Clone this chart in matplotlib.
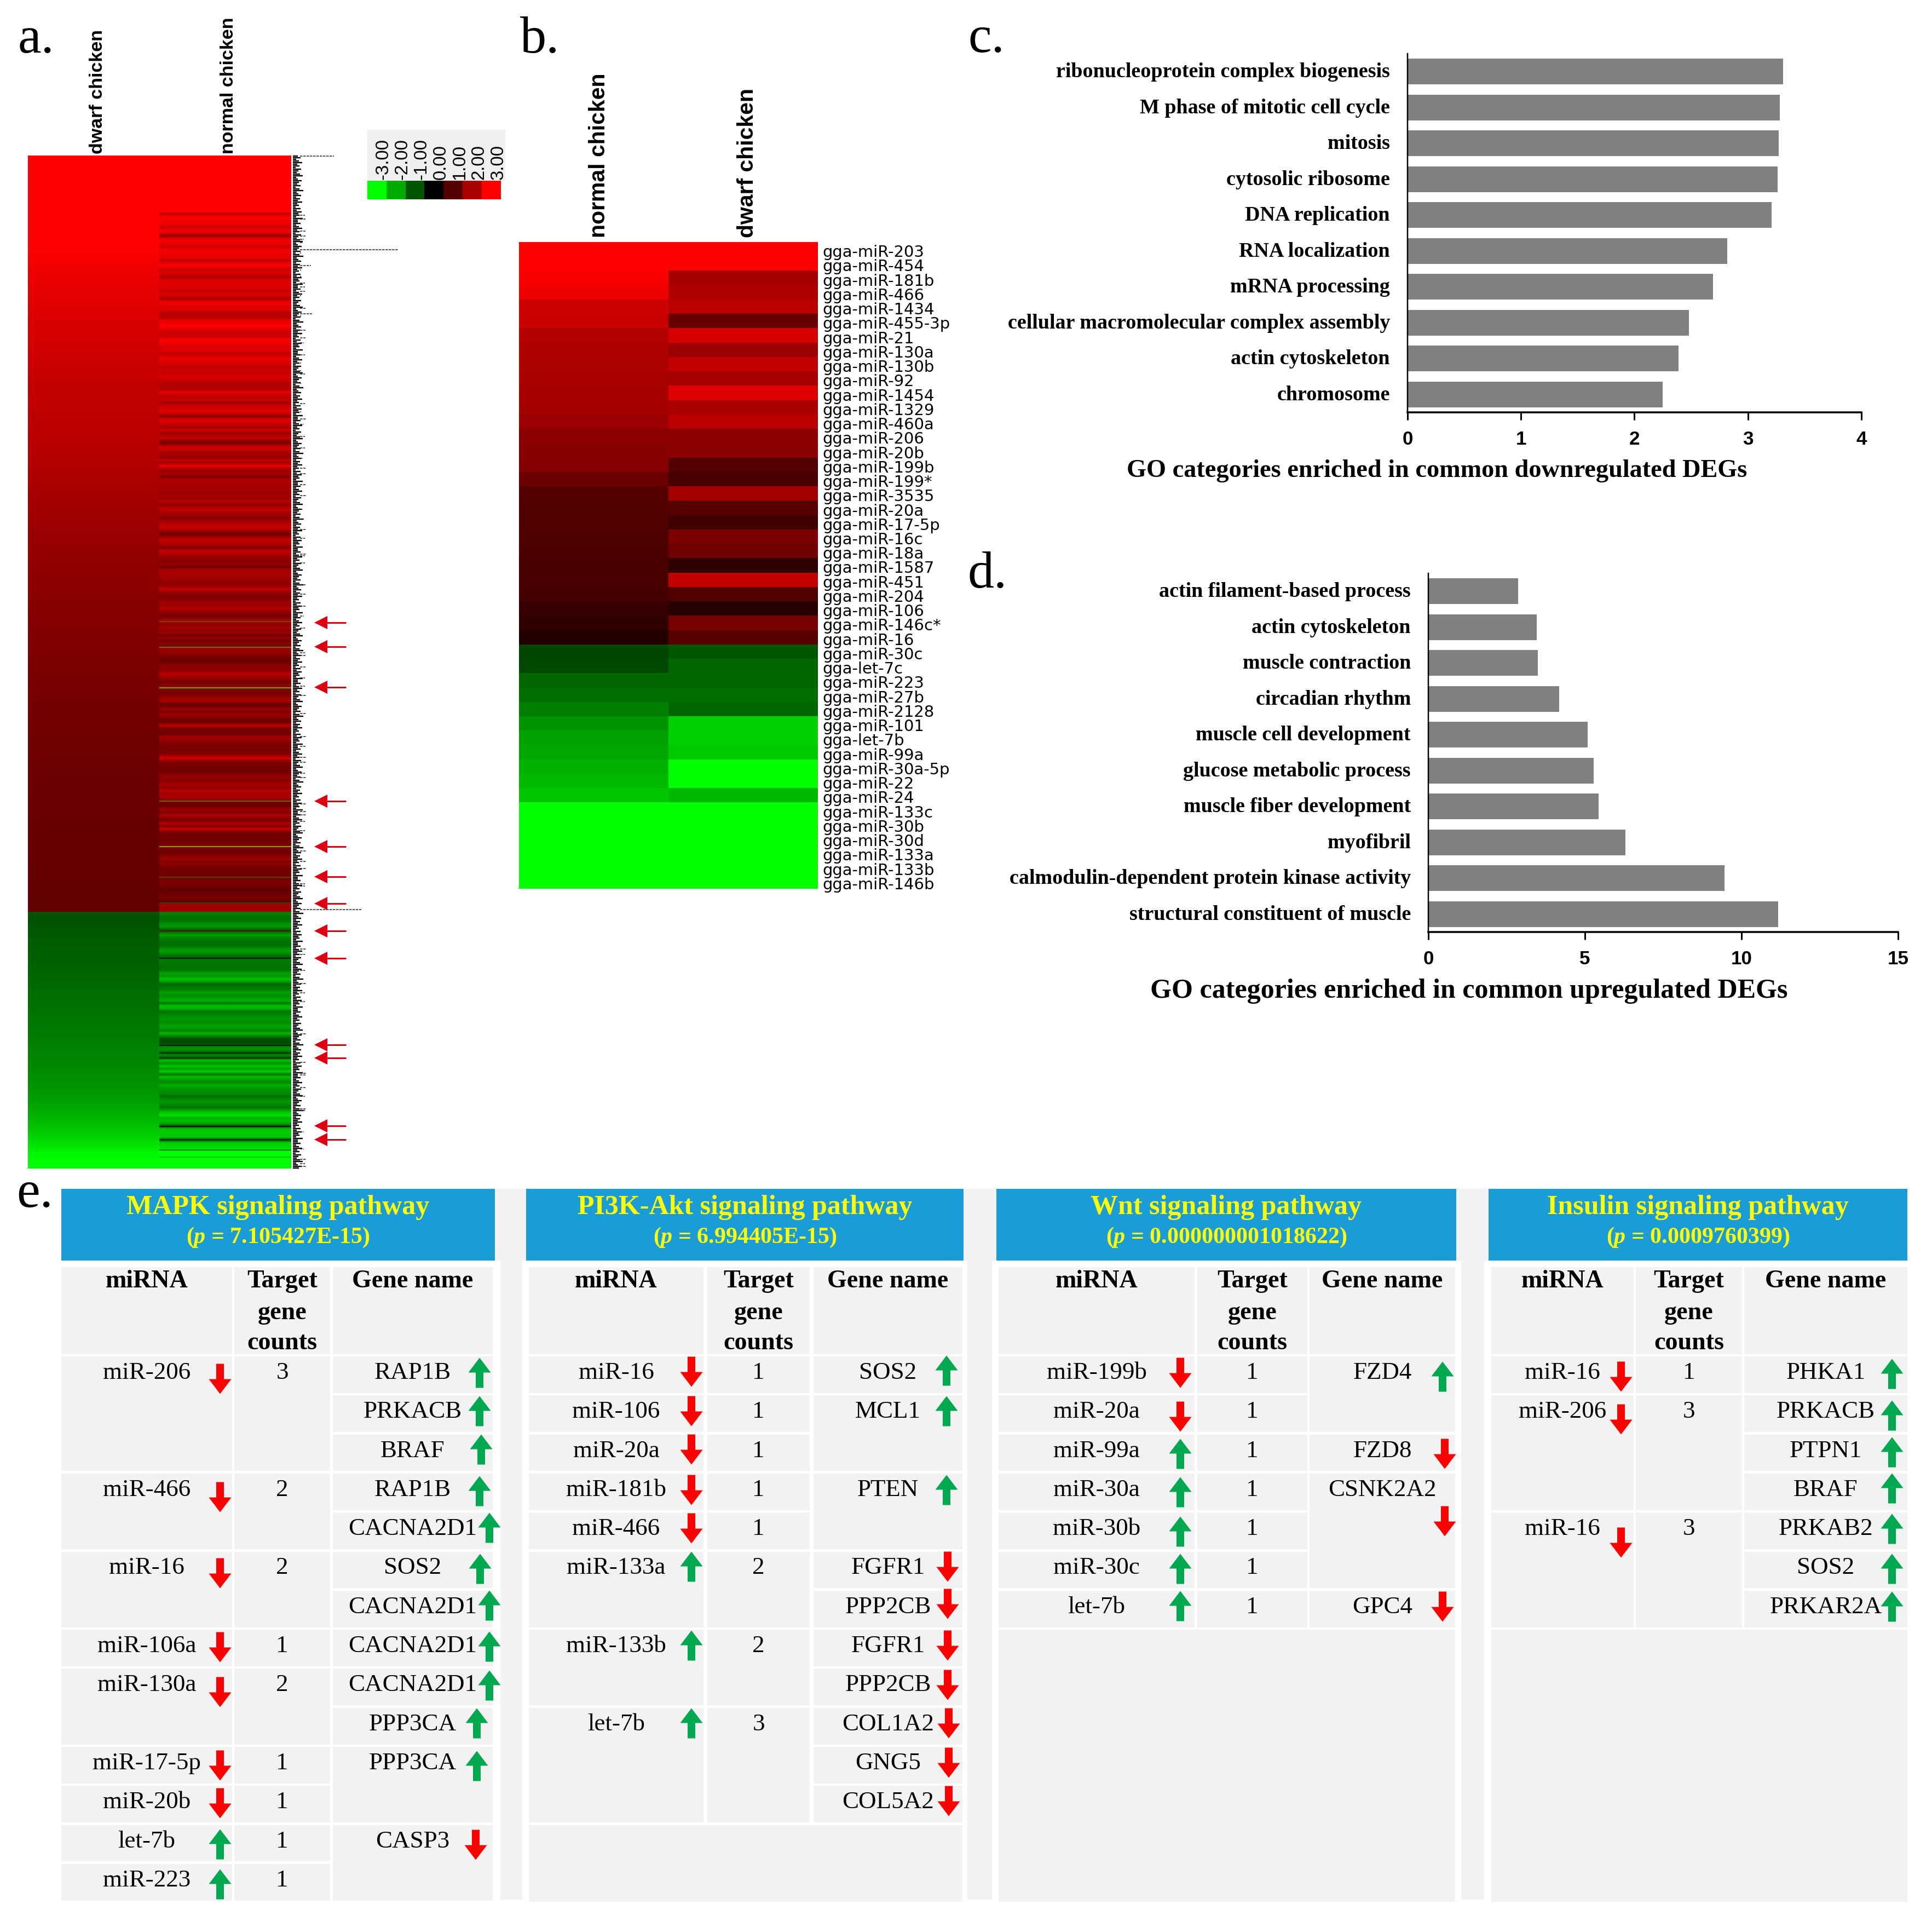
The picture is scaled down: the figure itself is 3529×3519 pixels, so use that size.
import numpy as np
import matplotlib
matplotlib.use('Agg')
import matplotlib.pyplot as plt
from matplotlib.colors import LinearSegmentedColormap
from matplotlib.patches import Rectangle, Polygon
from matplotlib.transforms import ScaledTranslation

W, H = 3530, 3519
SERIF = 'Liberation Serif'
SANS = 'Liberation Sans'

plt.rcParams['mathtext.fontset'] = 'custom'
plt.rcParams['mathtext.rm'] = 'Liberation Serif:bold'
plt.rcParams['mathtext.it'] = 'Liberation Serif:italic:bold'

# heatmap a, hex channel values, 5 px per row
a_dwarf_red = """FF FF FF FF FC EC E4 DC D4 CC C4 C0 BC B8 B0 A8 A0 9A 94 8E 8A 84 80 7C 78 74 72 70
6E 6C 6A 68 66 64 62""".split()
a_dwarf_green = """50 56 5C 5E 60 64 68 6C 70 74 78 7C 80 84 88 8E 94 9E A8 B8 C8 DC F4 FF""".split()

a_normal_top = ['FF'] * 21
a_normal_1 = """C0 F4 F8 F0 E8 D0 F0 E0 90 E8 F0 E8 C8 F0 F8 E8 E8 C0 E8 FF D0 D4 D8 A8 D8 E0 D8 E0 C4 D8
D0 A8 E8 F0 D8 E8 B8 B4 B8 E8 F0 FF E8 D0 CC D0 FF F0 E0 D8 E0 BC D8 F0 D8 D8 BC D0 C4 D8
D0 C8 B0 B4 AC E8 D0 BC C8 A0 C8 D0 E0 C8 8C D8 D8 C0 A4 D0 9C B0 C0 88 80 C8 C8""".split()
a_normal_2 = """B0 A0 94 C0 A0 F0 B0 98 A8 80 A8 B0 A0 A8 A0 98 A8 98 B8 94 A8 C0 A8 A0 88 A0 B0 C0 C0 90
70 98 C4 B8 A8 80 C4 B8 A0 90 84 98 70 A4 A8 A8 A0 98 90 98 C4 A0 88 7C 90 A0 98 B4 98 8C
70 98 A8 8C A0 90 98 74 90 74 90 6C A0 94 88 74 68 70 90 88 94 B8 A0 90 78 88 90""".split()
a_normal_3 = """78 78 84 A0 A4 70 70 A0 7C A0 84 70 74 C0 78 74 68 A0 A0 80 80 78 78 7C 98 D0 90 78 78 74
70 88 98 84 9C A4 90 C0 98 B0 90 70 68 78 A0 80 B0 88 78 B8 80 C8 84 70 70 70 78 78 70 70
70 88 A0 84 90 78 70 70 78 70 74 80 74 64 64 70 78 70 60 A8 98 A0""".split()
a_normal_4 = """80 74 70 78 90 98 60 70 A0 84 78 70 70 90 A0 84 60 78 78 74 70 78 A0 94 C0 A0 68 74 80 A0
90 98 B0 78 C0 B0 70 84 90 98 88 A0 A0 80 B8 80 50 4C 50 88 94 60 84 60 C0 90 C8 98 D0 70
C0 98 88 B0 98 90 88 70 84 98 88 70 98 C8 E0 B0 C0 A0 60 C0 D0 C8 C8 50 C8 D8 D8 FF FF FF
FF FF FF FF""".split()

a_line_y = [1135, 1182, 1256, 1463, 1546, 1602, 1649, 1700, 1750, 1909, 1923, 1932, 2057, 2081, 2100, 2113]
a_line_color = ['#6B4A00', '#7A6A00', '#6FA000', '#7A5A00', '#8A9A10', '#5A3A00', '#3A4000', '#501A00',
                '#102000', '#002000', '#003000', '#003000', '#101000', '#002000', '#008000', '#00C800']
a_arrow_y = [1137, 1181, 1255, 1463, 1546, 1601, 1650, 1700, 1750, 1908, 1932, 2056, 2081]
# tiny row labels of heatmap a are unreadable, only their ends are kept
a_label_end = [9, 14, 6, 11, 17, 8, 12, 5, 15, 10, 7, 13, 18, 6, 9, 16, 11, 8, 14, 5, 12, 19, 7, 10, 15, 6, 13, 9,
               17, 8, 11, 5, 14, 7, 16, 10, 12, 6, 18, 9]
a_long_y = [285, 393, 400, 422, 431, 437, 443, 456, 462, 485, 493, 505, 517, 524, 532, 540, 563, 573, 577, 603, 610,
            617, 626, 648, 663, 677, 683, 700, 737, 752, 765, 775, 797, 818, 837, 855, 865, 885, 905, 930, 948, 967,
            983, 1012, 1015, 1028, 1068, 1085, 1107, 1125, 1147, 1192, 1197, 1218, 1238, 1253, 1270, 1303, 1345,
            1363, 1383, 1392, 1412, 1420, 1468, 1482, 1488, 1500, 1517, 1554, 1573, 1586, 1614, 1618, 1661, 1733,
            1743, 1772, 1796, 1813, 1829, 1888, 1940, 1960, 1963, 1986, 2002, 2025, 2028, 2067, 2098, 2117, 2125, 2130]
a_long_end = [610, 557, 558, 558, 558, 555, 553, 727, 550, 568, 550, 550, 557, 557, 557, 550, 558, 570, 550, 558, 550,
              558, 555, 557, 550, 550, 557, 550, 557, 550, 560, 555, 557, 557, 553, 558, 558, 558, 560, 553, 555, 558,
              557, 560, 557, 557, 558, 558, 558, 555, 557, 557, 558, 558, 557, 557, 560, 558, 560,
              558, 560, 560, 557, 560, 560, 560, 560, 557, 557, 560, 560, 560, 557, 557, 660, 560,
              557, 557, 560, 557, 557, 560, 558, 560, 558, 558, 557, 560, 557, 555, 555, 560, 557, 560]

legend_ticks = ['-3.00', '-2.00', '-1.00', '0.00', '1.00', '2.00', '3.00']
legend_levels = [-3, -2, -1, 0, 1, 2, 3]

# heatmap b
mir_b = ['gga-miR-203', 'gga-miR-454', 'gga-miR-181b', 'gga-miR-466', 'gga-miR-1434', 'gga-miR-455-3p', 'gga-miR-21',
         'gga-miR-130a', 'gga-miR-130b', 'gga-miR-92', 'gga-miR-1454', 'gga-miR-1329', 'gga-miR-460a', 'gga-miR-206',
         'gga-miR-20b', 'gga-miR-199b', 'gga-miR-199*', 'gga-miR-3535', 'gga-miR-20a', 'gga-miR-17-5p', 'gga-miR-16c',
         'gga-miR-18a', 'gga-miR-1587', 'gga-miR-451', 'gga-miR-204', 'gga-miR-106', 'gga-miR-146c*', 'gga-miR-16',
         'gga-miR-30c', 'gga-let-7c', 'gga-miR-223', 'gga-miR-27b', 'gga-miR-2128', 'gga-miR-101', 'gga-let-7b',
         'gga-miR-99a', 'gga-miR-30a-5p', 'gga-miR-22', 'gga-miR-24', 'gga-miR-133c', 'gga-miR-30b', 'gga-miR-30d',
         'gga-miR-133a', 'gga-miR-133b', 'gga-miR-146b']
normal_b = [3.0, 3.0, 2.95, 2.8, 2.4, 2.35, 2.1, 2.05, 2.03, 2.0, 1.95, 1.93, 1.85, 1.65, 1.6, 1.55, 1.25, 1.0, 0.98,
            0.95, 0.92, 0.9, 0.88, 0.86, 0.83, 0.65, 0.58, 0.4, -0.8, -0.85, -1.2, -1.3, -1.5, -1.75, -1.88, -1.95,
            -2.08, -2.17, -2.3, -3.0, -3.0, -3.0, -3.0, -3.0, -3.0]
dwarf_b = [3.0, 3.0, 1.93, 2.05, 2.2, 1.18, 2.55, 1.85, 2.28, 1.95, 2.6, 2.0, 2.2, 1.65, 1.62, 1.0, 0.85, 1.93, 1.03,
           0.75, 1.46, 1.32, 0.56, 2.3, 0.94, 0.45, 1.4, 1.03, -1.03, -1.2, -1.2, -1.27, -1.2, -2.45, -2.45, -2.35,
           -3.0, -3.0, -2.17, -3.0, -3.0, -3.0, -3.0, -3.0, -3.0]

# panels c and d
go_down = ['ribonucleoprotein complex biogenesis', 'M phase of mitotic cell cycle', 'mitosis', 'cytosolic ribosome',
           'DNA replication', 'RNA localization', 'mRNA processing', 'cellular macromolecular complex assembly',
           'actin cytoskeleton', 'chromosome']
go_down_val = [3.31, 3.28, 3.27, 3.26, 3.21, 2.82, 2.69, 2.48, 2.39, 2.25]
go_up = ['actin filament-based process', 'actin cytoskeleton', 'muscle contraction', 'circadian rhythm',
         'muscle cell development', 'glucose metabolic process', 'muscle fiber development', 'myofibril',
         'calmodulin-dependent protein kinase activity', 'structural constituent of muscle']
go_up_val = [2.87, 3.46, 3.5, 4.17, 5.08, 5.28, 5.43, 6.3, 9.45, 11.18]

# panel e, tables
titles = ['MAPK signaling pathway', 'PI3K-Akt signaling pathway', 'Wnt signaling pathway', 'Insulin signaling pathway']
pvalues = ['7.105427E-15', '6.994405E-15', '0.000000001018622', '0.0009760399']

mir_1 = ['miR-206', 'miR-466', 'miR-16', 'miR-106a', 'miR-130a', 'miR-17-5p', 'miR-20b', 'let-7b', 'miR-223']
mir_dir_1 = ['d', 'd', 'd', 'd', 'd', 'd', 'd', 'u', 'u']
count_1 = [3, 2, 2, 1, 2, 1, 1, 1, 1]
mir_span_1 = [3, 2, 2, 1, 2, 1, 1, 1, 1]
gene_1 = ['RAP1B', 'PRKACB', 'BRAF', 'RAP1B', 'CACNA2D1', 'SOS2', 'CACNA2D1', 'CACNA2D1', 'CACNA2D1', 'PPP3CA',
          'PPP3CA', 'CASP3']
gene_dir_1 = ['u', 'u', 'u', 'u', 'u', 'u', 'u', 'u', 'u', 'u', 'u', 'd']
gene_span_1 = [1, 1, 1, 1, 1, 1, 1, 1, 1, 1, 2, 2]

mir_2 = ['miR-16', 'miR-106', 'miR-20a', 'miR-181b', 'miR-466', 'miR-133a', 'miR-133b', 'let-7b']
mir_dir_2 = ['d', 'd', 'd', 'd', 'd', 'u', 'u', 'u']
count_2 = [1, 1, 1, 1, 1, 2, 2, 3]
mir_span_2 = [1, 1, 1, 1, 1, 2, 2, 3]
gene_2 = ['SOS2', 'MCL1', 'PTEN', 'FGFR1', 'PPP2CB', 'FGFR1', 'PPP2CB', 'COL1A2', 'GNG5', 'COL5A2']
gene_dir_2 = ['u', 'u', 'u', 'd', 'd', 'd', 'd', 'd', 'd', 'd']
gene_span_2 = [1, 2, 2, 1, 1, 1, 1, 1, 1, 1]

mir_3 = ['miR-199b', 'miR-20a', 'miR-99a', 'miR-30a', 'miR-30b', 'miR-30c', 'let-7b']
mir_dir_3 = ['d', 'd', 'u', 'u', 'u', 'u', 'u']
count_3 = [1, 1, 1, 1, 1, 1, 1]
mir_span_3 = [1, 1, 1, 1, 1, 1, 1]
gene_3 = ['FZD4', 'FZD8', 'CSNK2A2', 'GPC4']
gene_dir_3 = ['u', 'd', 'd', 'd']
gene_span_3 = [2, 1, 3, 1]

mir_4 = ['miR-16', 'miR-206', 'miR-16']
mir_dir_4 = ['d', 'd', 'd']
count_4 = [1, 3, 3]
mir_span_4 = [1, 3, 3]
gene_4 = ['PHKA1', 'PRKACB', 'PTPN1', 'BRAF', 'PRKAB2', 'SOS2', 'PRKAR2A']
gene_dir_4 = ['u', 'u', 'u', 'u', 'u', 'u', 'u']
gene_span_4 = [1, 1, 1, 1, 1, 1, 1]

# layout of the tables: header x, the three column x ranges, arrow places, block end
tables = [
    dict(mir=mir_1, mdir=mir_dir_1, cnt=count_1, mspan=mir_span_1, gene=gene_1, gdir=gene_dir_1, gspan=gene_span_1,
         head=(112, 904), c1=(112, 424), c2=(428, 603), c3=(608, 900),
         m_ax=402, m_ay=[2518, 2734, 2873, 3008, 3090, 3224, 3293, 3368, 3441],
         g_ax=[876, 876, 879, 876, 894, 877, 894, 894, 894, 871, 871, 869],
         g_ay=[2507, 2577, 2647, 2723, 2790, 2865, 2932, 3007, 3078, 3147, 3225, 3369]),
    dict(mir=mir_2, mdir=mir_dir_2, cnt=count_2, mspan=mir_span_2, gene=gene_2, gdir=gene_dir_2, gspan=gene_span_2,
         head=(961, 1760), c1=(966, 1285), c2=(1292, 1479), c3=(1486, 1758),
         m_ax=1263, m_ay=[2505, 2577, 2647, 2721, 2791, 2861, 3005, 3147],
         g_ax=[1729, 1729, 1729, 1731, 1731, 1731, 1731, 1733, 1733, 1733],
         g_ay=[2503, 2577, 2721, 2861, 2929, 3005, 3077, 3147, 3219, 3289]),
    dict(mir=mir_3, mdir=mir_dir_3, cnt=count_3, mspan=mir_span_3, gene=gene_3, gdir=gene_dir_3, gspan=gene_span_3,
         head=(1820, 2660), c1=(1824, 2182), c2=(2187, 2388), c3=(2392, 2658),
         m_ax=2156, m_ay=[2507, 2587, 2655, 2725, 2797, 2865, 2933],
         g_ax=[2635, 2639, 2639, 2635], g_ay=[2514, 2655, 2778, 2934]),
    dict(mir=mir_4, mdir=mir_dir_4, cnt=count_4, mspan=mir_span_4, gene=gene_4, gdir=gene_dir_4, gspan=gene_span_4,
         head=(2719, 3484), c1=(2724, 2984), c2=(2988, 3182), c3=(3186, 3484),
         m_ax=2961, m_ay=[2514, 2592, 2817],
         g_ax=[3456] * 7, g_ay=[2509, 2585, 2652, 2718, 2792, 2865, 2934]),
]
gutters = [(914, 954), (1767, 1812), (2669, 2711)]
head_gaps = [(904, 961), (1760, 1820), (2660, 2719)]

GREY = '#F2F2F2'
BLUE = '#1A9CD9'
UP = '#00A84F'
DOWN = '#FF0000'
ROW0 = 2477
PITCH = 71.3
TABLE_END = 3473


def px(size):
    return size * 0.72


def levels(items, sign=1):
    return np.array([sign * int(v, 16) / 85 for v in items])


fig = plt.figure(figsize=(W / 100, H / 100), dpi=100, facecolor='white')
ax = fig.add_axes([0, 0, 1, 1])
cmap = LinearSegmentedColormap.from_list('gbr', ['#00FF00', '#000000', '#FF0000'])


def strip(vals, x0, x1, y0, y1, smooth=False):
    ax.imshow(np.array(vals)[:, None], cmap=cmap, vmin=-3, vmax=3, extent=(x0, x1, y1, y0), aspect='auto',
              interpolation='bilinear' if smooth else 'nearest', zorder=2)


def label(x, y, s, size, family=SERIF, weight='normal', ha='center', va='baseline', color='black', **kw):
    return ax.text(x, y, s, fontsize=px(size), family=family, weight=weight, ha=ha, va=va, color=color, zorder=6, **kw)


def box(x0, x1, y0, y1, color=GREY, zorder=1):
    ax.add_patch(Rectangle((x0, y0), x1 - x0, y1 - y0, facecolor=color, edgecolor='none', zorder=zorder))


def block_arrow(x, y, direction):
    w, h, head, shaft = 20.5, 27.5, 27, 7
    s = 1 if direction == 'u' else -1
    tip = y - s * h
    neck = tip + s * head
    end = y + s * h
    pts = [(x, tip), (x + w, neck), (x + shaft, neck), (x + shaft, end), (x - shaft, end), (x - shaft, neck),
           (x - w, neck)]
    ax.add_patch(Polygon(pts, closed=True, facecolor=UP if direction == 'u' else DOWN, edgecolor='none', zorder=5))


# panel letters
for s, x, y in [('a.', 33, 96), ('b.', 950, 96), ('c.', 1768, 95), ('d.', 1768, 1073), ('e.', 30, 2204)]:
    label(x, y, s, 96, ha='left')

# heatmap a
strip(levels(a_dwarf_red), 51, 291, 284, 1665, smooth=True)
strip(levels(a_dwarf_green, -1), 51, 291, 1665, 2134, smooth=True)
strip(levels(a_normal_top), 291, 532, 284, 388)
strip(levels(a_normal_1), 291, 532, 388, 823, smooth=True)
strip(levels(a_normal_2), 291, 532, 823, 1258, smooth=True)
strip(levels(a_normal_3), 291, 532, 1258, 1665, smooth=True)
strip(levels(a_normal_4, -1), 291, 532, 1665, 2134, smooth=True)
ax.hlines(a_line_y, 291, 532, colors=a_line_color, linewidth=px(2.2), zorder=3)
label_rows = np.arange(285, 2134, 3)
ax.hlines(label_rows, 535, 535 + np.resize(a_label_end, len(label_rows)), colors='#000000', linewidth=px(2.4), zorder=3)
ax.hlines(a_long_y, 548, a_long_end, colors='#222222', linewidth=px(1.5), linestyles=(0, (3, 1)), zorder=3)
for y in a_arrow_y:
    ax.add_patch(Polygon([(574, y), (598, y - 12), (598, y + 12)], closed=True, facecolor='#DC0010',
                         edgecolor='none', zorder=4))
    ax.plot([596, 632], [y, y], color='#DC0010', linewidth=px(3), zorder=4, solid_capstyle='butt')
label(179, 281, 'dwarf chicken', 34, family=SANS, weight='bold', rotation=90, va='bottom', rotation_mode='default')
label(418, 281, 'normal chicken', 34, family=SANS, weight='bold', rotation=90, va='bottom', rotation_mode='default')

# colour key
box(671, 923, 237, 330, color='#EFEFEF')
ax.imshow(np.array(legend_levels)[None, :], cmap=cmap, vmin=-3, vmax=3, extent=(671, 915, 364, 330), aspect='auto',
          interpolation='nearest', zorder=2)
for i, s in enumerate(legend_ticks):
    label(671 + 35 * (i + 1) - 6, 328, s, 33, family=SANS, rotation=90, va='bottom', rotation_mode='default')

# heatmap b
strip(normal_b, 948, 1221, 442, 1623)
strip(dwarf_b, 1221, 1494, 442, 1623)
row_h = (1623 - 442) / len(mir_b)
for i, s in enumerate(mir_b):
    label(1502, 442 + row_h * (i + 0.5) + 14, s, 29, family='DejaVu Sans', ha='left')
label(1094, 434, 'normal chicken', 41, family=SANS, weight='bold', rotation=90, va='bottom', rotation_mode='default')
label(1365, 434, 'dwarf chicken', 41, family=SANS, weight='bold', rotation=90, va='bottom', rotation_mode='default')


# bar panels
def bar_panel(x0, x1, y0, y1, cats, vals, xmax, ticks):
    a = fig.add_axes([x0 / W, 1 - y1 / H, (x1 - x0) / W, (y1 - y0) / H])
    a.barh(np.arange(len(cats)), vals, height=0.725, color='#808080')
    a.set_xlim(0, xmax)
    a.set_ylim(len(cats) - 0.5, -0.5)
    a.set_yticks(np.arange(len(cats)))
    a.set_yticklabels(cats, fontsize=px(38), family=SERIF, weight='bold')
    a.tick_params(axis='y', length=0, pad=px(32))
    # names sit a little above the bar middle
    up = ScaledTranslation(0, 0.03, fig.dpi_scale_trans)
    for t in a.get_yticklabels():
        t.set_transform(t.get_transform() + up)
    a.set_xticks(ticks)
    a.set_xticklabels([str(t) for t in ticks], fontsize=px(35), family=SANS, weight='bold')
    a.tick_params(axis='x', length=px(14), width=px(3), pad=px(19))
    a.spines['top'].set_visible(False)
    a.spines['right'].set_visible(False)
    a.spines['left'].set_linewidth(px(2.5))
    a.spines['bottom'].set_linewidth(px(3.5))
    a.patch.set_alpha(0)
    return a


bar_panel(2571, 3400, 98, 753, go_down, go_down_val, 4, [0, 1, 2, 3, 4])
label(2625, 871, 'GO categories enriched in common downregulated DEGs', 46.3, weight='bold')
bar_panel(2609, 3467, 1047, 1702, go_up, go_up_val, 15, [0, 5, 10, 15])
label(2683, 1822, 'GO categories enriched in common upregulated DEGs', 50, weight='bold')

# panel e
for x0, x1 in head_gaps:
    box(x0, x1, 2171, 2302)
for x0, x1 in gutters:
    box(x0, x1, 2302, 3469)

for t, title, pv in zip(tables, titles, pvalues):
    box(t['head'][0], t['head'][1], 2171, 2302, color=BLUE)
    mid = (t['head'][0] + t['head'][1]) / 2
    label(mid, 2217, title, 50, weight='bold', color='#FFFF00')
    label(mid, 2270, '($\\mathit{p}$ = ' + pv + ')', 42, weight='bold', color='#FFFF00')

    c1, c2, c3 = t['c1'], t['c2'], t['c3']
    for c, lines in [(c1, [('miRNA', 2351)]), (c2, [('Target', 2351), ('gene', 2409), ('counts', 2464)]),
                     (c3, [('Gene name', 2351)])]:
        box(c[0], c[1], 2314, 2473)
        for s, y in lines:
            label((c[0] + c[1]) / 2, y, s, 46, weight='bold')

    row = 0
    for i, s in enumerate(t['mir']):
        span = t['mspan'][i]
        top = ROW0 + PITCH * row
        for c in (c1, c2):
            box(c[0], c[1], top, top + PITCH * span - 4.5)
        label((c1[0] + c1[1]) / 2, top + 41, s, 45)
        label((c2[0] + c2[1]) / 2, top + 41, str(t['cnt'][i]), 45)
        block_arrow(t['m_ax'], t['m_ay'][i], t['mdir'][i])
        row += span
    n_rows = row

    row = 0
    for i, s in enumerate(t['gene']):
        span = t['gspan'][i]
        top = ROW0 + PITCH * row
        box(c3[0], c3[1], top, top + PITCH * span - 4.5)
        label((c3[0] + c3[1]) / 2, top + 41, s, 45)
        block_arrow(t['g_ax'][i], t['g_ay'][i], t['gdir'][i])
        row += span

    # the part below the last row is one plain block
    end_rows = ROW0 + PITCH * n_rows
    if end_rows < TABLE_END - 10:
        box(c1[0], c3[1], end_rows, TABLE_END)

ax.set_xlim(0, W)
ax.set_ylim(H, 0)
ax.axis('off')
fig.savefig('out.png', dpi=100, facecolor='white')
